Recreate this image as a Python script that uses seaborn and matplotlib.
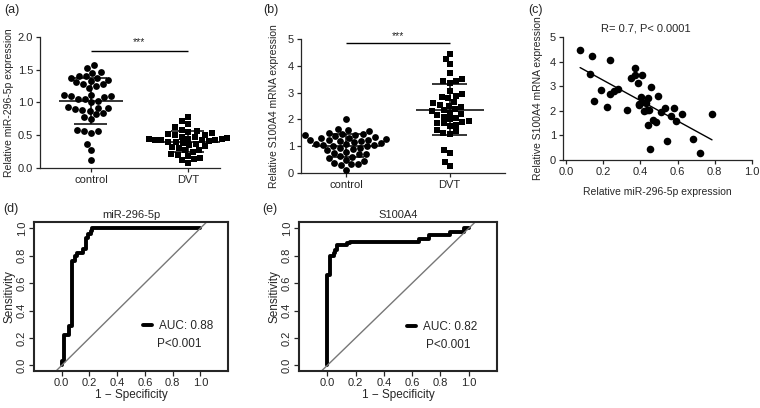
import numpy as np
import pandas as pd
import matplotlib
matplotlib.use("Agg")
import matplotlib.pyplot as plt
from matplotlib.lines import Line2D
import seaborn as sns

# ---- data ----
groups = ["control", "DVT"]

mir_control = [1.57, 1.53, 1.47, 1.45, 1.41, 1.40, 1.38, 1.38, 1.35, 1.33, 1.31, 1.28, 1.28,
               1.25, 1.22, 1.12, 1.12, 1.10, 1.10, 1.08, 1.05, 1.05, 1.03, 1.00, 0.93, 0.92,
               0.92, 0.90, 0.88, 0.87, 0.84, 0.82, 0.78, 0.75, 0.58, 0.56, 0.56, 0.53, 0.37,
               0.28, 0.12]
mir_dvt = [0.78, 0.72, 0.67, 0.62, 0.58, 0.56, 0.55, 0.53, 0.52, 0.50, 0.50, 0.48, 0.47,
           0.46, 0.45, 0.45, 0.44, 0.43, 0.43, 0.42, 0.42, 0.41, 0.40, 0.39, 0.38, 0.37,
           0.35, 0.33, 0.32, 0.30, 0.28, 0.27, 0.25, 0.22, 0.20, 0.18, 0.15, 0.13, 0.12, 0.08]

s100_control = [2.00, 1.65, 1.62, 1.55, 1.50, 1.45, 1.45, 1.40, 1.40, 1.38, 1.35, 1.32, 1.30,
                1.28, 1.25, 1.25, 1.22, 1.20, 1.18, 1.15, 1.12, 1.10, 1.08, 1.05, 1.05, 1.02,
                1.00, 0.95, 0.92, 0.90, 0.85, 0.80, 0.75, 0.72, 0.70, 0.65, 0.60, 0.55, 0.50,
                0.45, 0.38, 0.35, 0.32, 0.30, 0.12]
s100_dvt = [4.45, 4.25, 4.05, 3.72, 3.50, 3.45, 3.42, 3.35, 3.05, 2.95, 2.88, 2.85, 2.78,
            2.65, 2.60, 2.55, 2.50, 2.45, 2.40, 2.35, 2.30, 2.25, 2.20, 2.15, 2.10, 2.05,
            2.00, 1.95, 1.92, 1.88, 1.85, 1.80, 1.75, 1.60, 1.55, 1.50, 1.45, 0.85, 0.75,
            0.42, 0.25]

corr_mir = [0.076, 0.139, 0.239, 0.127, 0.148, 0.188, 0.221, 0.239, 0.257, 0.278, 0.329,
            0.347, 0.369, 0.369, 0.387, 0.409, 0.401, 0.391, 0.410, 0.441, 0.438, 0.420,
            0.445, 0.459, 0.441, 0.470, 0.483, 0.492, 0.510, 0.532, 0.564, 0.582, 0.591,
            0.622, 0.542, 0.450, 0.682, 0.723, 0.785, 0.430, 0.395]
corr_s100 = [4.46, 4.24, 4.05, 3.51, 2.39, 2.84, 2.14, 2.68, 2.79, 2.88, 2.05, 3.35, 3.73,
             3.46, 3.11, 3.46, 2.57, 2.28, 2.35, 2.52, 2.04, 1.98, 2.02, 2.95, 1.41, 1.64,
             1.53, 2.61, 1.94, 2.12, 1.77, 2.12, 1.57, 1.88, 0.78, 0.43, 0.87, 0.27, 1.88,
             2.32, 2.25]

# ROC curves: each point is the top of a vertical step
roc_mir_fpr = [0.0, 0.0, 0.02, 0.05, 0.075, 0.095, 0.11, 0.15, 0.175, 0.19, 0.21, 0.22, 1.0]
roc_mir_tpr = [0.0, 0.03, 0.22, 0.29, 0.76, 0.80, 0.82, 0.85, 0.93, 0.96, 0.98, 1.0, 1.0]
roc_s100_fpr = [0.0, 0.0, 0.02, 0.045, 0.055, 0.07, 0.14, 0.16, 0.65, 0.72, 0.87, 0.97, 1.0]
roc_s100_tpr = [0.0, 0.66, 0.80, 0.82, 0.84, 0.88, 0.89, 0.90, 0.92, 0.95, 0.97, 1.0, 1.0]

sns.set_style("ticks")
plt.rcParams["font.family"] = ["Liberation Sans", "DejaVu Sans"]
plt.rcParams["font.size"] = 7.5

fig = plt.figure(figsize=(7.6, 4.08), dpi=100)


def dot_panel(ax, ctrl, dvt, ymax, ystep, fmt, bar_y, star_y):
    df = pd.DataFrame({"group": ["control"] * len(ctrl) + ["DVT"] * len(dvt),
                       "value": ctrl + dvt})
    sns.swarmplot(data=df[df.group == "control"], x="group", y="value", order=groups,
                  color="black", marker="o", size=4.9, ax=ax, clip_on=False)
    sns.swarmplot(data=df[df.group == "DVT"], x="group", y="value", order=groups,
                  color="black", marker="s", size=4.6, ax=ax, clip_on=False)
    for i, vals in enumerate([ctrl, dvt]):
        m, sd = np.mean(vals), np.std(vals, ddof=1)
        ax.hlines(m, i - 0.33, i + 0.33, color="black", lw=1.1, zorder=5)
        ax.hlines([m - sd, m + sd], i - 0.17, i + 0.17, color="black", lw=1.1, zorder=5)
        ax.vlines(i, m - sd, m + sd, color="black", lw=1.1, zorder=5)
    ax.hlines(bar_y, 0, 1, color="black", lw=1)
    ax.text(0.5, star_y, "***", ha="center", va="center", fontsize=7.5)
    ax.set_ylim(0, ymax)
    ax.set_yticks(np.arange(0, ymax + 1e-9, ystep))
    ax.yaxis.set_major_formatter(matplotlib.ticker.FormatStrFormatter(fmt))
    ax.set_xlabel("")
    sns.despine(ax=ax)
    ax.tick_params(direction="out", length=3, width=0.9, labelsize=8, pad=2)
    for s in ax.spines.values():
        s.set_linewidth(0.9)


# (a)
ax_a = fig.add_axes([40 / 760, 1 - 168 / 408, 180 / 760, 131 / 408])
dot_panel(ax_a, mir_control, mir_dvt, 2.0, 0.5, "%.1f", 1.79, 1.93)
ax_a.set_xlim(-0.525, 1.33)
ax_a.set_ylabel("Relative miR-296-5p expression", fontsize=7.5, labelpad=3)

# (b)
ax_b = fig.add_axes([301 / 760, 1 - 173 / 408, 204 / 760, 134 / 408])
dot_panel(ax_b, s100_control, s100_dvt, 5, 1, "%d", 4.84, 5.1)
ax_b.set_xlim(-0.438, 1.535)
ax_b.set_ylabel("Relative S100A4 mRNA expression", fontsize=7.5, labelpad=6)

# (c)
ax_c = fig.add_axes([563 / 760, 1 - 160 / 408, 189 / 760, 123 / 408])
sns.regplot(x=corr_mir, y=corr_s100, ci=None, ax=ax_c, color="black",
            scatter_kws={"s": 30, "alpha": 1, "linewidths": 0, "clip_on": False},
            line_kws={"color": "black", "lw": 1})
ax_c.set_xlim(-0.016, 1.0)
ax_c.set_ylim(0, 5)
ax_c.set_xticks(np.arange(0, 1.01, 0.2))
ax_c.xaxis.set_major_formatter(matplotlib.ticker.FormatStrFormatter("%.1f"))
ax_c.set_yticks(range(0, 6))
ax_c.text(0.43, 5.15, "R= 0.7, P< 0.0001", ha="center", va="bottom", fontsize=8)
ax_c.set_xlabel("Relative miR-296-5p expression", fontsize=7.5, labelpad=7)
ax_c.set_ylabel("Relative S100A4 mRNA expression", fontsize=7.5, labelpad=5)
sns.despine(ax=ax_c)
ax_c.tick_params(direction="out", length=3, width=0.9, labelsize=8, pad=2)
for s in ax_c.spines.values():
    s.set_linewidth(0.9)


def roc_panel(ax, fpr, tpr, title, auc, leg_x, leg_y, p_x, p_y):
    sns.lineplot(x=fpr, y=tpr, estimator=None, sort=False, ax=ax, color="black",
                 lw=2.8, drawstyle="steps-post")
    ax.axline((0, 0), (1, 1), color="#777777", lw=1)
    ax.set_xlim(-0.2, 1.2)
    ax.set_ylim(-0.041, 1.046)
    ax.set_xticks(np.arange(0, 1.01, 0.2))
    ax.set_yticks(np.arange(0, 1.01, 0.2))
    fmt = matplotlib.ticker.FormatStrFormatter("%.1f")
    ax.xaxis.set_major_formatter(fmt)
    ax.yaxis.set_major_formatter(fmt)
    ax.tick_params(direction="out", length=3.5, width=0.9, labelsize=8, pad=1.5)
    for lab in ax.get_yticklabels():
        lab.set_rotation(90)
        lab.set_va("center")
    for s in ax.spines.values():
        s.set_linewidth(1.5)
    ax.set_title(title, fontsize=8, pad=3)
    ax.set_xlabel("1 \u2212 Specificity", fontsize=8.5, labelpad=1)
    ax.set_ylabel("Sensitivity", fontsize=8.5, labelpad=1)
    ax.legend(handles=[Line2D([], [], color="black", lw=2.8)], labels=[f"AUC: {auc}"],
              loc="center left", bbox_to_anchor=(leg_x, leg_y), frameon=False,
              borderpad=0, borderaxespad=0, handlelength=0.8, handletextpad=0.6,
              fontsize=8.5)
    ax.text(p_x, p_y, "P<0.001", transform=ax.transAxes, ha="center", va="center",
            fontsize=8.5)


ax_d = fig.add_axes([34 / 760, 1 - 371 / 408, 194 / 760, 149 / 408])
roc_panel(ax_d, roc_mir_fpr, roc_mir_tpr, "miR-296-5p", "0.88", 0.56, 0.304, 0.75, 0.18)

ax_e = fig.add_axes([299 / 760, 1 - 371 / 408, 198 / 760, 149 / 408])
roc_panel(ax_e, roc_s100_fpr, roc_s100_tpr, "S100A4", "0.82", 0.545, 0.294, 0.754, 0.175)

# panel letters
for lbl, x, y in [("(a)", 4, 4), ("(b)", 263, 4), ("(c)", 528, 4),
                  ("(d)", 3, 203), ("(e)", 262, 203)]:
    fig.text(x / 760, 1 - y / 408, lbl, ha="left", va="top", fontsize=9)

fig.savefig("out.png", dpi=100)
